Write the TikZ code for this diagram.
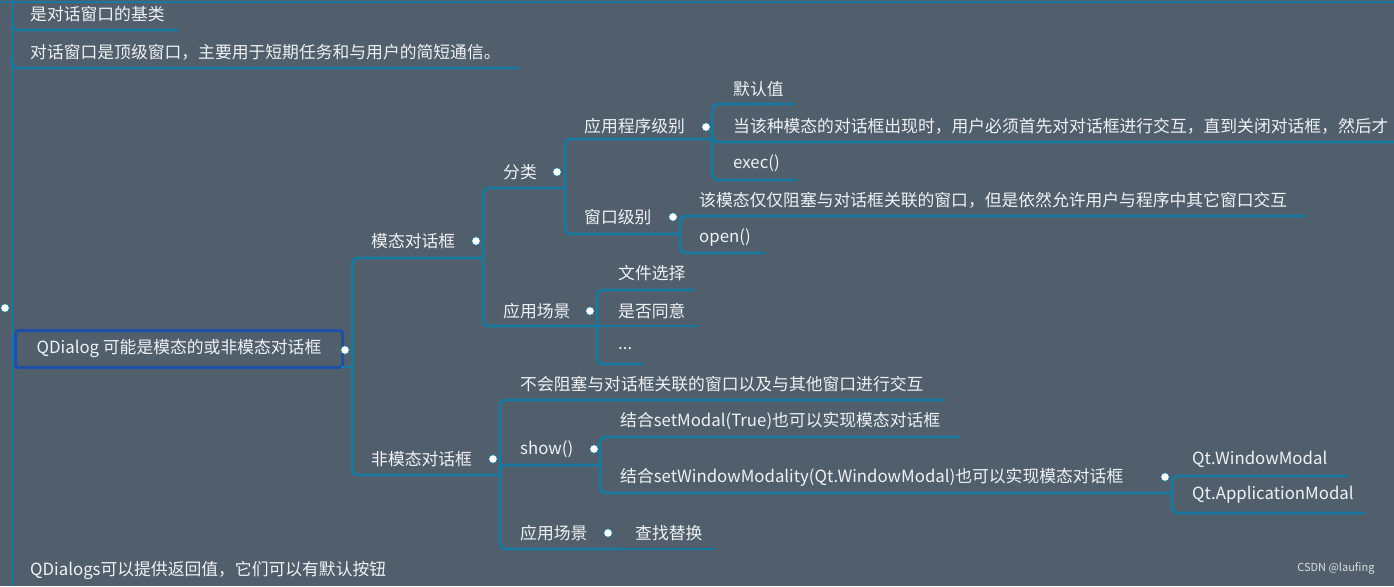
\documentclass[tikz,border=0pt]{standalone}
\usepackage{fontspec}
\setmainfont{Noto Sans CJK SC}
\definecolor{bg}{HTML}{515E6B}
\definecolor{ln}{HTML}{1778A0}
\definecolor{sel}{HTML}{1E4FAA}
\definecolor{tx}{HTML}{EEF2F5}
\begin{document}
\begin{tikzpicture}[x=1pt,y=-1pt,
  t/.style={anchor=west,text=tx,font=\fontsize{16.8}{18}\selectfont,inner sep=0pt},
  br/.style={draw=ln,line width=2.8pt,rounded corners=6pt},
  dt/.style={circle,fill=white,draw=ln,line width=0.6pt,inner sep=0pt,minimum size=8.5pt}]
\fill[bg] (0,0) rectangle (1394,586);
\useasboundingbox (0,0) rectangle (1394,586);
\draw[ln,line width=2.5pt] (0,2) -- (1394,2);
% root
\draw[br] (12,0) -- (12,586);
\draw[br] (12,20) |- (178,30);
\draw[br] (12,55) |- (519,68);
\node[dt] (r) at (5,308) {};
\node[t] (a1) at (30,14) {是对话窗口的基类};
\node[t] (a2) at (30,52) {对话窗口是顶级窗口，主要用于短期任务和与用户的简短通信。};
\node[t] (a4) at (30,570) {QDialogs可以提供返回值，它们可以有默认按钮};
\node[t,draw=sel,line width=3pt,rounded corners=3pt,minimum width=327pt,minimum height=37pt,inner xsep=16pt] (q) at (14,349) {QDialog 可能是模态的或非模态对话框};
\node[dt] (qd) at (345,350) {};
% level 1
\draw[br] (341,367) -- (352,367);
\draw[br] (352,367) |- (483,258);
\draw[br] (352,367) |- (500,475);
\node[t] (m) at (371,241) {模态对话框};
\node[dt] (md) at (476,241) {};
\node[t] (n) at (371,459) {非模态对话框};
\node[dt] (nd) at (493,459) {};
% modal
\draw[br] (483,258) |- (565,188);
\draw[br] (483,258) |- (597,326);
\node[t] (fl) at (503,172) {分类};
\node[dt] at (557,172) {};
\node[t] (cj) at (503,311) {应用场景};
\node[dt] at (590,311) {};
% classify
\draw[br] (565,188) |- (712,139);
\draw[br] (565,188) |- (680,234);
\node[t] at (584,126) {应用程序级别};
\node[dt] at (706,127) {};
\node[t] at (584,217) {窗口级别};
\node[dt] at (673,217) {};
% app level
\draw[br] (712,139) |- (795,104);
\draw[br] (712,139) -- (712,142) -- (1394,142);
\draw[br] (712,139) |- (797,180);
\node[t] at (733,89) {默认值};
\node[t] at (733,126) {当该种模态的对话框出现时，用户必须首先对对话框进行交互，直到关闭对话框，然后才};
\node[t] at (733,163) {exec()};
% window level
\draw[br] (680,234) |- (1306,216);
\draw[br] (680,234) |- (765,253);
\node[t] at (699,200) {该模态仅仅阻塞与对话框关联的窗口，但是依然允许用户与程序中其它窗口交互};
\node[t] at (699,238) {open()};
% modal scenes
\draw[br] (597,326) |- (694,290);
\draw[br] (597,326) -- (698,326);
\draw[br] (597,326) |- (643,364);
\node[t] at (618,273) {文件选择};
\node[t] at (618,311) {是否同意};
\node[t] at (618,349) {...};
% non-modal
\draw[br] (500,475) |- (945,400);
\draw[br] (500,475) -- (500,465) -- (600,465);
\draw[br] (500,475) |- (620,549);
\node[t] at (520,384) {不会阻塞与对话框关联的窗口以及与其他窗口进行交互};
\node[t] at (520,449) {show()};
\node[dt] at (594,449) {};
\node[t] at (520,533) {应用场景};
\node[dt] at (608,533) {};
\draw[br] (620,549) -- (715,549);
\node[t] at (635,533) {查找替换};
% show
\draw[br] (600,465) |- (960,437);
\draw[br] (600,465) |- (1172,493);
\node[t] at (620,421) {结合setModal(True)也可以实现模态对话框};
\node[t] at (620,477) {结合setWindowModality(Qt.WindowModal)也可以实现模态对话框};
\node[dt] at (1165,477) {};
\draw[br] (1172,493) |- (1348,476);
\draw[br] (1172,493) |- (1365,513);
\node[t] at (1192,459) {Qt.WindowModal};
\node[t] at (1192,495) {Qt.ApplicationModal};
\node[anchor=east,text=white!80!bg,font=\fontsize{11}{12}\selectfont] at (1378,568) {CSDN @laufing};
\end{tikzpicture}
\end{document}
